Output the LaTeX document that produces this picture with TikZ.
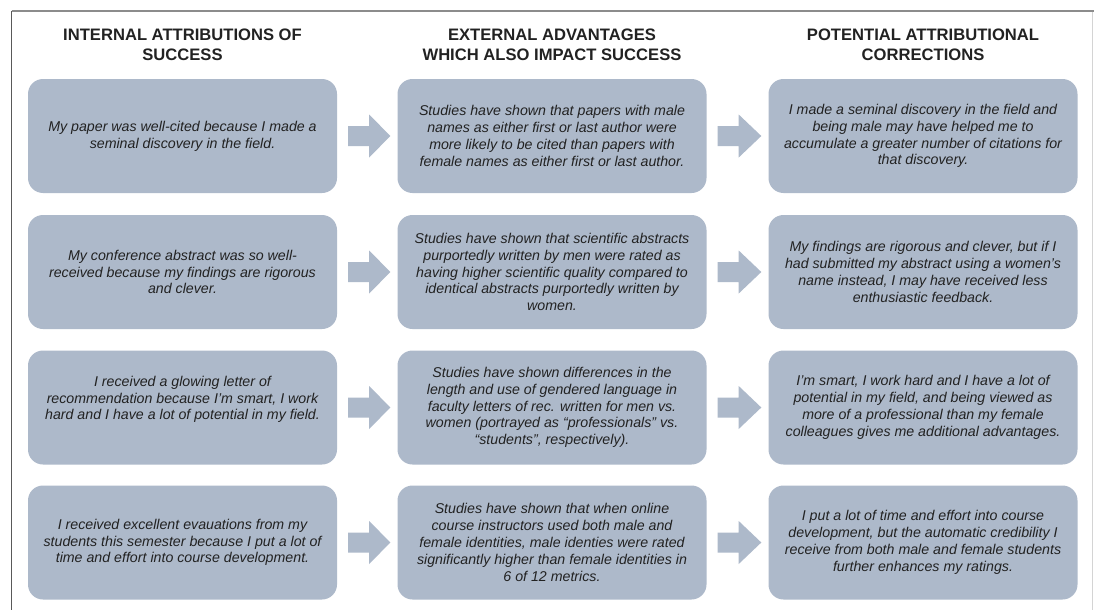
\documentclass[tikz,border=0pt]{standalone}
\usepackage{fontspec}
\setmainfont{Liberation Sans}
\usetikzlibrary{calc}
\definecolor{boxc}{HTML}{ADB9CA}
\definecolor{txt}{HTML}{222222}
\definecolor{frametop}{HTML}{8C8C8C}
\definecolor{frameleft}{HTML}{595959}
\definecolor{frameright}{HTML}{D4D4D4}
\newcommand\blockarrow[2]{%
  \fill[boxc] ($(#1.east)+(11,-10)$) -- ($(#1.east)+(32,-10)$) -- ($(#1.east)+(32,-21.5)$)
    -- ($(#2.west)+(-7,0)$) -- ($(#1.east)+(32,21.5)$) -- ($(#1.east)+(32,10)$)
    -- ($(#1.east)+(11,10)$) -- cycle;}
\begin{document}
\begin{tikzpicture}[x=1pt,y=-1pt,
  box/.style={fill=boxc, rounded corners=15pt, minimum width=309pt, minimum height=114pt, inner sep=0pt},
  body/.style={font=\fontsize{14.2pt}{16.8pt}\selectfont\itshape, text=txt, align=center, inner sep=0pt},
  head/.style={font=\fontsize{16.6pt}{20pt}\selectfont\bfseries, text=txt, align=center, inner sep=0pt}]
\useasboundingbox (0,0) rectangle (1094,610);
\fill[white] (0,0) rectangle (1094,610);
% frame
\coordinate (ftl) at (11.5,11);
\coordinate (ftr) at (1094,11);
\coordinate (fbl) at (11.5,610);
\coordinate (frt) at (1092.5,12);
\coordinate (frb) at (1092.5,610);
\draw[frametop, line width=2pt] (ftl) -- (ftr);
\draw[frameleft, line width=1.5pt] (ftl) -- (fbl);
\draw[frameright, line width=1.5pt] (frt) -- (frb);
% headers
\node[head] (h1) at (182.5,45) {INTERNAL ATTRIBUTIONS OF\\SUCCESS};
\node[head] (h2) at (552,45) {EXTERNAL ADVANTAGES\\WHICH ALSO IMPACT SUCCESS};
\node[head] (h3) at (923,45) {POTENTIAL ATTRIBUTIONAL\\CORRECTIONS};
% boxes
\foreach \r/\y in {1/136,2/272,3/407.5,4/542.5}{
  \node[box] (b\r1) at (182.5,\y) {};
  \node[box] (b\r2) at (552,\y) {};
  \node[box] (b\r3) at (923,\y) {};
}
% texts
\node[body] (t11) at (b11.center) {My paper was well-cited because I made a\\seminal discovery in the field.};
\node[body] (t12) at (b12.center) {Studies have shown that papers with male\\names as either first or last author were\\more likely to be cited than papers with\\female names as either first or last author.};
\node[body] (t13) at (b13.center) {I made a seminal discovery in the field and\\being male may have helped me to\\accumulate a greater number of citations for\\that discovery.};
\node[body] (t21) at (b21.center) {My conference abstract was so well-\\received because my findings are rigorous\\and clever.};
\node[body] (t22) at (b22.center) {Studies have shown that scientific abstracts\\purportedly written by men were rated as\\having higher scientific quality compared to\\identical abstracts purportedly written by\\women.};
\node[body] (t23) at (b23.center) {My findings are rigorous and clever, but if I\\had submitted my abstract using a women's\\name instead, I may have received less\\enthusiastic feedback.};
\node[body] (t31) at ($(b31.center)+(0,-8)$) {I received a glowing letter of\\recommendation because I’m smart, I work\\hard and I have a lot of potential in my field.};
\node[body] (t32) at (b32.center) {Studies have shown differences in the\\length and use of gendered language in\\faculty letters of rec. written for men vs.\\women (portrayed as “professionals” vs.\\“students”, respectively).};
\node[body] (t33) at (b33.center) {I’m smart, I work hard and I have a lot of\\potential in my field, and being viewed as\\more of a professional than my female\\colleagues gives me additional advantages.};
\node[body] (t41) at (b41.center) {I received excellent evauations from my\\students this semester because I put a lot of\\time and effort into course development.};
\node[body] (t42) at (b42.center) {Studies have shown that when online\\course instructors used both male and\\female identities, male identies were rated\\significantly higher than female identities in\\6 of 12 metrics.};
\node[body] (t43) at (b43.center) {I put a lot of time and effort into course\\development, but the automatic credibility I\\receive from both male and female students\\further enhances my ratings.};
% arrows
\foreach \r in {1,2,3,4}{
  \blockarrow{b\r1}{b\r2}
  \blockarrow{b\r2}{b\r3}
}
\end{tikzpicture}
\end{document}
